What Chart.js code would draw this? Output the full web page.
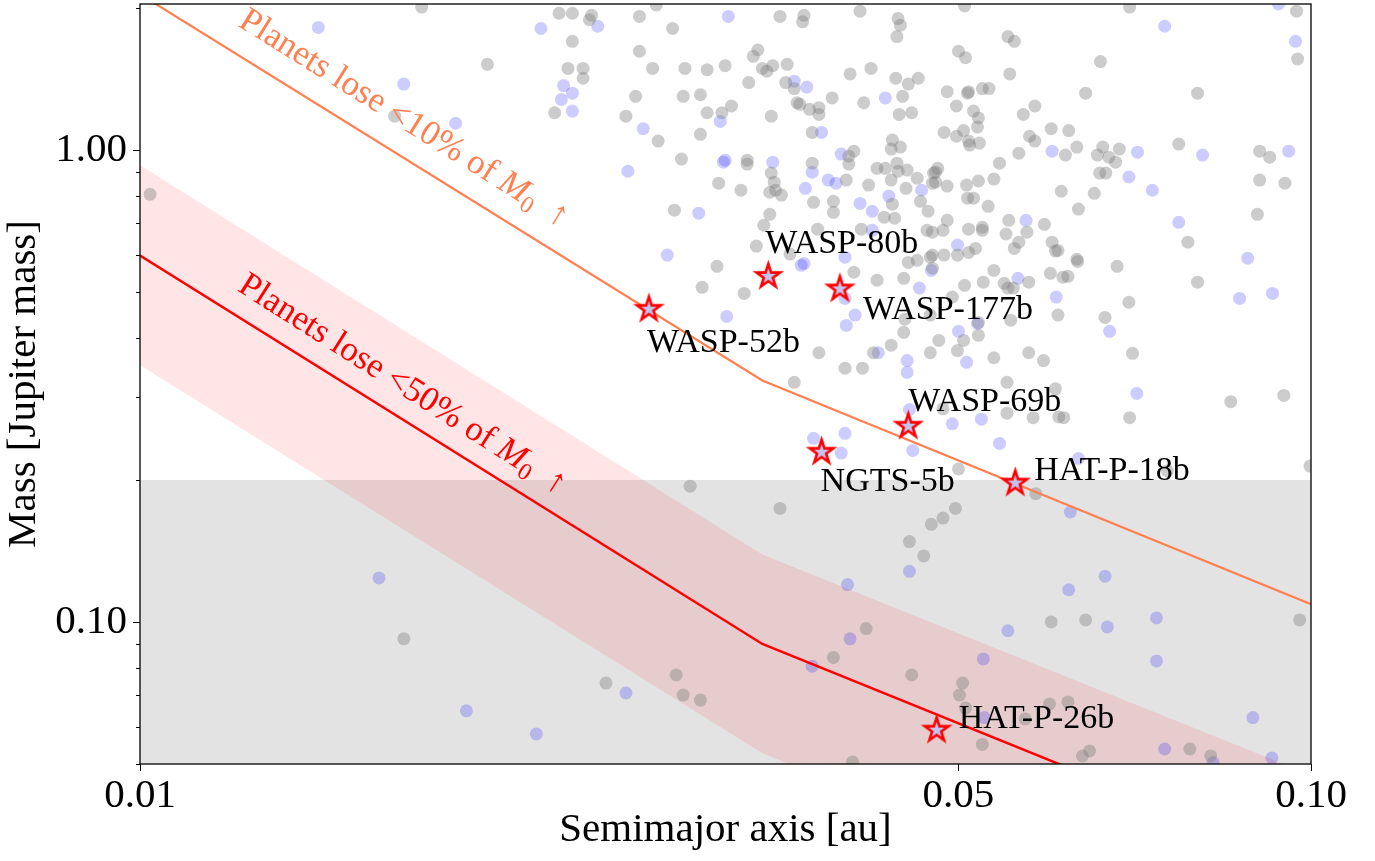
<!DOCTYPE html>
<html>
<head>
<meta charset="utf-8">
<script src="https://cdn.jsdelivr.net/npm/chart.js@4.4.0/dist/chart.umd.min.js"></script>
<style>
  html, body { margin: 0; padding: 0; background: #fff; }
</style>
</head>
<body>
<canvas id="chart" width="1375" height="861"></canvas>
<script>

/**
 * Hot Jupiter mass vs semimajor axis
 *
 */

// known planets (gray) and planets with mass-loss measurements (blue)
var grayA = [0.0174, 0.0198, 0.0165, 0.0102,
  0.0228, 0.0234, 0.0242, 0.0243, 0.0267, 0.0276, 0.0285, 0.0234, 0.0267, 0.0232, 0.0239, 0.0239,
  0.0274, 0.0292, 0.0305, 0.0316, 0.0226, 0.0265, 0.0291, 0.0301, 0.0320, 0.0314, 0.0305, 0.0260,
  0.0277, 0.0301, 0.0346, 0.0290, 0.0312, 0.0326, 0.0330, 0.0330, 0.0286, 0.0352, 0.0369, 0.0368,
  0.0412, 0.0444, 0.0446, 0.0443, 0.0337, 0.0334, 0.0340, 0.0343, 0.0347, 0.0357, 0.0331, 0.0356,
  0.0362, 0.0364, 0.0366, 0.0373, 0.0380, 0.0380, 0.0390, 0.0415, 0.0404, 0.0421, 0.0442, 0.0453,
  0.0462, 0.0448, 0.0445, 0.0456, 0.0375, 0.0439, 0.0446, 0.0438, 0.0407, 0.0403, 0.0403, 0.0375,
  0.0426, 0.0433, 0.0443, 0.0444, 0.0452, 0.0461, 0.0478, 0.0478, 0.0401, 0.0419, 0.0438, 0.0451,
  0.0464, 0.0471, 0.0439, 0.0441, 0.0432, 0.0376, 0.0391, 0.0391, 0.0346, 0.0348, 0.0345, 0.0349,
  0.0353, 0.0345, 0.0341, 0.0336, 0.0379, 0.0413, 0.0470, 0.0475,
  0.0506, 0.0700, 0.0972, 0.0551, 0.0558, 0.0500, 0.0507, 0.0661, 0.0974, 0.0553, 0.0489, 0.0509,
  0.0510, 0.0524, 0.0531, 0.0642, 0.0800, 0.0498, 0.0515, 0.0520, 0.0519, 0.0568, 0.0581, 0.0486,
  0.0498, 0.0505, 0.0510, 0.0511, 0.0521, 0.0575, 0.0581, 0.0600, 0.0621, 0.0563, 0.0542, 0.0631,
  0.0617, 0.0664, 0.0657, 0.0672, 0.0681, 0.0686, 0.0660, 0.0668, 0.0771, 0.0904, 0.0922, 0.0904,
  0.0950, 0.0480, 0.0476, 0.0475, 0.0489, 0.0508, 0.0520, 0.0536, 0.0509, 0.0515, 0.0530, 0.0612,
  0.0653, 0.0633, 0.0900, 0.0489, 0.0485, 0.0510, 0.0524, 0.0524, 0.0552, 0.0549, 0.0572, 0.0592,
  0.0563, 0.0558, 0.0601, 0.0605, 0.0517, 0.0510, 0.0499, 0.0486, 0.0475, 0.0785, 0.0631,
  0.0311, 0.0359, 0.0302, 0.0328, 0.0407, 0.0426, 0.0449, 0.0450, 0.0449, 0.0473, 0.0481, 0.0473,
  0.0499, 0.0505, 0.0506, 0.0494, 0.0525, 0.0536, 0.0547, 0.0551, 0.0557, 0.0574, 0.0554, 0.0520,
  0.0520, 0.0536, 0.0574, 0.0591, 0.0608, 0.0599, 0.0614, 0.0620, 0.0632, 0.0608, 0.0473, 0.0461,
  0.0453, 0.0475, 0.0380, 0.0400, 0.0414, 0.0362, 0.0438, 0.0423, 0.0550, 0.0605,
  0.0854, 0.0948, 0.0485, 0.0550, 0.0579, 0.0609, 0.0615, 0.0700, 0.0500, 0.0754, 0.0998, 0.0582,
  0.0352, 0.0497, 0.0485, 0.0474, 0.0454, 0.0467, 0.0600, 0.0642, 0.0978, 0.0417, 0.0391, 0.0456,
  0.0504, 0.0501, 0.0507, 0.0598, 0.0620, 0.0570, 0.0524, 0.0638, 0.0647, 0.0788, 0.0821, 0.0406,
  0.0683, 0.0800, 0.0699, 0.0667, 0.0704,
  0.0295, 0.0168, 0.0287, 0.0250, 0.0291, 0.0301];
var grayM = [2.01, 1.52, 1.18, 0.806,
  1.95, 1.95, 1.89, 1.93, 1.92, 2.03, 1.81, 1.70, 1.62, 1.49, 1.49, 1.42,
  1.49, 1.49, 1.48, 1.51, 1.20, 1.30, 1.30, 1.31, 1.24, 1.20, 1.20, 1.18,
  1.045, 1.08, 1.18, 0.957, 0.851, 0.822, 0.952, 0.934, 0.746, 1.92, 1.93, 1.87,
  1.97, 1.90, 1.84, 1.74, 1.63, 1.58, 1.49, 1.47, 1.51, 1.52, 1.39, 1.39,
  1.35, 1.26, 1.25, 1.22, 1.23, 1.19, 1.29, 1.26, 1.45, 1.49, 1.42, 1.38,
  1.42, 1.30, 1.19, 1.20, 1.09, 1.05, 1.015, 1.005, 0.995, 0.971, 0.934, 0.938,
  0.915, 0.915, 0.938, 0.902, 0.907, 0.872, 0.898, 0.855, 0.864, 0.843, 0.864, 0.830,
  0.779, 0.742, 0.768, 0.717, 0.721, 0.775, 0.779, 0.738, 0.894, 0.855, 0.814, 0.822,
  0.803, 0.731, 0.693, 0.626, 0.680, 0.680, 0.676, 0.670,
  2.02, 2.01, 1.97, 1.74, 1.70, 1.62, 1.57, 1.54, 1.56, 1.45, 1.33, 1.32,
  1.33, 1.35, 1.35, 1.32, 1.32, 1.24, 1.21, 1.17, 1.12, 1.19, 1.24, 1.09,
  1.07, 1.10, 1.045, 1.025, 1.035, 1.07, 1.045, 1.11, 1.10, 0.985, 0.938, 1.015,
  0.976, 1.015, 0.976, 0.966, 0.943, 1.005, 0.894, 0.894, 1.03, 0.995, 0.966, 0.864,
  0.851, 0.915, 0.894, 0.851, 0.839, 0.843, 0.860, 0.868, 0.791, 0.791, 0.760, 0.818,
  0.810, 0.750, 0.731, 0.710, 0.676, 0.680, 0.686, 0.676, 0.710, 0.664, 0.670, 0.696,
  0.638, 0.619, 0.638, 0.611, 0.619, 0.607, 0.599, 0.599, 0.599, 0.638, 0.587,
  0.567, 0.602, 0.512, 0.497, 0.551, 0.530, 0.535, 0.438, 0.411, 0.447, 0.395, 0.372,
  0.376, 0.395, 0.517, 0.488, 0.525, 0.556, 0.522, 0.510, 0.510, 0.525, 0.436, 0.405,
  0.431, 0.363, 0.372, 0.358, 0.447, 0.548, 0.538, 0.540, 0.581, 0.613, 0.593, 0.584,
  0.578, 0.562, 0.372, 0.345, 0.345, 0.322, 0.386, 0.372, 0.322, 0.312,
  0.293, 0.302, 0.283, 0.277, 0.271, 0.272, 0.271, 0.271, 0.211, 0.209, 0.214, 0.187,
  0.174, 0.174, 0.166, 0.161, 0.148, 0.138, 0.100, 0.101, 0.101, 0.0968, 0.0841, 0.0772,
  0.0742, 0.0700, 0.0657, 0.0670, 0.0677, 0.0623, 0.0550, 0.0520, 0.0533, 0.0538, 0.0520, 0.0505,
  0.567, 0.525, 0.476, 0.442, 0.371,
  0.194, 0.0921, 0.0772, 0.0742, 0.0700, 0.0683];

var blueA = [0.0142, 0.0220, 0.0168, 0.0186, 0.0246, 0.0318, 0.0230, 0.0234, 0.0229, 0.0234, 0.0269, 0.0313,
  0.0261, 0.0316, 0.0315, 0.0347, 0.0362, 0.0371, 0.0382, 0.0397, 0.0375, 0.0387, 0.0393, 0.0370,
  0.0412, 0.0422, 0.0433, 0.0436, 0.0465, 0.0300, 0.0282, 0.0422, 0.0938, 0.0750, 0.0970, 0.0601,
  0.0711, 0.0808, 0.0957, 0.0699, 0.0732, 0.0571, 0.0771, 0.0499, 0.0883, 0.0367, 0.0369, 0.0317,
  0.0400, 0.0400, 0.0408, 0.0401, 0.0474, 0.0463, 0.0500, 0.0519, 0.0562, 0.0606, 0.0427, 0.0452,
  0.0452, 0.0508, 0.0710, 0.0454, 0.0494, 0.0523, 0.0376, 0.0400, 0.0397, 0.0457, 0.0542, 0.0633,
  0.0623, 0.0454, 0.0402, 0.0667, 0.0621, 0.0670, 0.0738, 0.0551, 0.0404, 0.0375, 0.0525, 0.0738,
  0.0526, 0.0892, 0.0750, 0.0926, 0.0825, 0.0869, 0.0927, 0.0673, 0.0160, 0.0260, 0.0190, 0.0218];
var blueM = [1.82, 1.81, 1.38, 1.14, 1.83, 1.92, 1.37, 1.32, 1.28, 1.21, 1.11, 1.15,
  0.902, 0.952, 0.943, 0.943, 1.40, 1.36, 1.09, 0.981, 0.898, 0.864, 0.851, 0.830,
  0.771, 0.742, 1.29, 0.799, 0.822, 0.735, 0.599, 0.676, 2.04, 1.83, 1.70, 0.995,
  0.990, 0.976, 0.995, 0.877, 0.822, 0.710, 0.703, 0.629, 0.590, 0.570, 0.575, 0.444,
  0.593, 0.485, 0.447, 0.425, 0.556, 0.510, 0.413, 0.429, 0.535, 0.488, 0.372, 0.358,
  0.338, 0.355, 0.305, 0.282, 0.263, 0.269, 0.245, 0.251, 0.228, 0.231, 0.239, 0.222,
  0.171, 0.128, 0.120, 0.125, 0.117, 0.0976, 0.102, 0.0958, 0.0921, 0.0806, 0.0835, 0.0827,
  0.0627, 0.0627, 0.0538, 0.0515, 0.0503, 0.485, 0.497, 0.413, 0.124, 0.0707, 0.0648, 0.0579];

// highlighted planets
var planetNames = ["WASP-52b", "WASP-80b", "WASP-177b", "WASP-69b", "NGTS-5b", "HAT-P-18b", "HAT-P-26b"];
var planetA = [0.0272, 0.0344, 0.0396, 0.0453, 0.0382, 0.0559, 0.0479];
var planetM = [0.46, 0.54, 0.508, 0.26, 0.229, 0.197, 0.059];

// mass loss limits
var limitA = [0.01, 0.034, 0.1];
var tenPctM = [2.14, 0.325, 0.109];
var fiftyPctM = [0.598, 0.0898, 0.0304];
var fiftyHiM = [0.929, 0.139, 0.0474];
var fiftyLoM = [0.350, 0.0527, 0.0179];
var lowMassCut = 0.2;

// axes
var xTicks = [0.01, 0.05, 0.1];
var yTicks = [0.1, 1];
var yMinorTicks = [0.05, 0.06, 0.07, 0.08, 0.09, 0.2, 0.3, 0.4, 0.5, 0.6, 0.7, 0.8, 0.9, 2];

function pts(xs, ys) {
    return xs.map(function (v, i) { return {x: v, y: ys[i]}; });
}

function starImage(r, fill, stroke, lw) {
    var size = Math.ceil(2 * r + 2 * lw + 4);
    var c = document.createElement('canvas');
    c.width = size; c.height = size;
    var g = c.getContext('2d');
    g.translate(size / 2, size / 2);
    g.beginPath();
    for (var i = 0; i < 10; i++) {
        var rad = i % 2 === 0 ? r : r * 0.382;
        var ang = -Math.PI / 2 + i * Math.PI / 5;
        g.lineTo(rad * Math.cos(ang), rad * Math.sin(ang));
    }
    g.closePath();
    g.fillStyle = fill; g.fill();
    g.lineJoin = 'miter'; g.lineWidth = lw; g.strokeStyle = stroke; g.stroke();
    return c;
}

var SERIF = '"Liberation Serif", "Times New Roman", serif';
var star = starImage(12.5, '#c3c3ef', '#ff0000', 2.6);

// text offsets of planet labels, px from the star
var labelOffsets = {
    "WASP-52b": [-2, 43], "WASP-80b": [-3, -23], "WASP-177b": [23, 30], "WASP-69b": [0, -15],
    "NGTS-5b": [-1, 39], "HAT-P-18b": [19, -3], "HAT-P-26b": [22, -2]
};

function drawRich(ctx, parts, cx, cy, angle, color) {
    ctx.save();
    ctx.translate(cx, cy);
    ctx.rotate(angle * Math.PI / 180);
    ctx.fillStyle = color;
    ctx.textBaseline = 'middle';
    ctx.textAlign = 'left';
    var total = 0;
    parts.forEach(function (p) { ctx.font = p.font; p.w = ctx.measureText(p.text).width; total += p.w; });
    var x = -total / 2;
    parts.forEach(function (p) { ctx.font = p.font; ctx.fillText(p.text, x, p.dy || 0); x += p.w; });
    ctx.restore();
}

function lossLabel(pct) {
    return [
        {text: 'Planets lose <' + pct + '% of ', font: '35px ' + SERIF},
        {text: 'M', font: 'italic 35px ' + SERIF},
        {text: '0', font: '24px ' + SERIF, dy: 9},
        {text: '  \u2191', font: '35px ' + SERIF}
    ];
}

var annotations = {
    id: 'annotations',
    afterDatasetsDraw: function (chart) {
        var ctx = chart.ctx, xs = chart.scales.x, ys = chart.scales.y;
        ctx.save();
        ctx.font = '34px ' + SERIF;
        ctx.fillStyle = '#000';
        ctx.textAlign = 'left';
        ctx.textBaseline = 'alphabetic';
        planetNames.forEach(function (n, i) {
            var off = labelOffsets[n];
            ctx.fillText(n, xs.getPixelForValue(planetA[i]) + off[0], ys.getPixelForValue(planetM[i]) + off[1]);
        });
        ctx.restore();
        drawRich(ctx, lossLabel(10), xs.getPixelForValue(0.0168), ys.getPixelForValue(1.165), 32, '#ff7f50');
        drawRich(ctx, lossLabel(50), xs.getPixelForValue(0.01675), ys.getPixelForValue(0.318), 32.5, '#ff0000');
    },
    afterDraw: function (chart) {
        var ctx = chart.ctx, a = chart.chartArea, xs = chart.scales.x, ys = chart.scales.y;
        ctx.save();
        ctx.strokeStyle = '#000';
        ctx.lineWidth = 1.3;
        ctx.strokeRect(a.left, a.top, a.right - a.left, a.bottom - a.top);
        ctx.lineWidth = 1;
        ctx.beginPath();
        xTicks.forEach(function (v) {
            var p = Math.round(xs.getPixelForValue(v)) + 0.5;
            ctx.moveTo(p, a.bottom); ctx.lineTo(p, a.bottom + 7);
        });
        yTicks.forEach(function (v) {
            var p = Math.round(ys.getPixelForValue(v)) + 0.5;
            ctx.moveTo(a.left, p); ctx.lineTo(a.left - 7, p);
        });
        yMinorTicks.forEach(function (v) {
            var p = Math.round(ys.getPixelForValue(v)) + 0.5;
            ctx.moveTo(a.left, p); ctx.lineTo(a.left - 4, p);
        });
        ctx.stroke();
        ctx.restore();
    }
};

new Chart('chart', {
    type: 'scatter',
    data: {
        datasets: [{
            type: 'line',
            data: pts([0.01, 0.1], [lowMassCut, lowMassCut]),
            borderWidth: 0,
            pointRadius: 0,
            backgroundColor: 'rgba(0,0,0,0.11)',
            fill: 'start',
            order: 6
        }, {
            type: 'line',
            data: pts(limitA, fiftyHiM),
            borderWidth: 0,
            pointRadius: 0,
            backgroundColor: 'rgba(255,0,0,0.1)',
            fill: '+1',
            order: 5
        }, {
            type: 'line',
            data: pts(limitA, fiftyLoM),
            borderWidth: 0,
            pointRadius: 0,
            fill: false,
            order: 5
        }, {
            data: pts(grayA, grayM),
            backgroundColor: 'rgba(128,128,128,0.4)',
            borderWidth: 0,
            pointRadius: 6.5,
            order: 4
        }, {
            data: pts(blueA, blueM),
            backgroundColor: 'rgba(0,0,255,0.2)',
            borderWidth: 0,
            pointRadius: 6.5,
            order: 4
        }, {
            type: 'line',
            data: pts(limitA, tenPctM),
            borderColor: '#ff7f50',
            borderWidth: 2.2,
            pointRadius: 0,
            fill: false,
            order: 3
        }, {
            type: 'line',
            data: pts(limitA, fiftyPctM),
            borderColor: '#ff0000',
            borderWidth: 2.5,
            pointRadius: 0,
            fill: false,
            order: 3
        }, {
            data: pts(planetA, planetM),
            pointStyle: star,
            pointRadius: 13,
            order: 1
        }]
    },
    options: {
        responsive: false,
        animation: false,
        events: [],
        layout: {autoPadding: false, padding: {top: 4, right: 64, bottom: 0, left: 0}},
        plugins: {
            legend: {display: false},
            tooltip: {enabled: false}
        },
        scales: {
            x: {
                type: 'logarithmic',
                min: 0.01,
                max: 0.1,
                afterBuildTicks: function (s) { s.ticks = xTicks.map(function (v) { return {value: v}; }); },
                afterFit: function (s) { s.height = 97; s.paddingLeft = 0; s.paddingRight = 0; },
                grid: {display: false, drawTicks: false},
                border: {display: false},
                ticks: {
                    callback: function (v) { return Number(v).toFixed(2); },
                    font: {family: SERIF, size: 41},
                    color: '#000',
                    padding: 8,
                    autoSkip: false,
                    maxRotation: 0
                },
                title: {
                    display: true,
                    text: 'Semimajor axis [au]',
                    font: {family: SERIF, size: 41},
                    color: '#000',
                    padding: {top: 0, bottom: 6}
                }
            },
            y: {
                type: 'logarithmic',
                min: 0.05,
                max: 2.04,
                afterBuildTicks: function (s) { s.ticks = yTicks.map(function (v) { return {value: v}; }); },
                afterFit: function (s) { s.width = 140; s.paddingTop = 0; s.paddingBottom = 0; },
                grid: {display: false, drawTicks: false},
                border: {display: false},
                ticks: {
                    callback: function (v) { return Number(v).toFixed(2); },
                    font: {family: SERIF, size: 41},
                    color: '#000',
                    padding: 13,
                    autoSkip: false
                },
                title: {
                    display: true,
                    text: 'Mass [Jupiter mass]',
                    font: {family: SERIF, size: 41},
                    color: '#000',
                    padding: {top: 0, bottom: 0}
                }
            }
        }
    },
    plugins: [annotations]
});
</script>
</body>
</html>
